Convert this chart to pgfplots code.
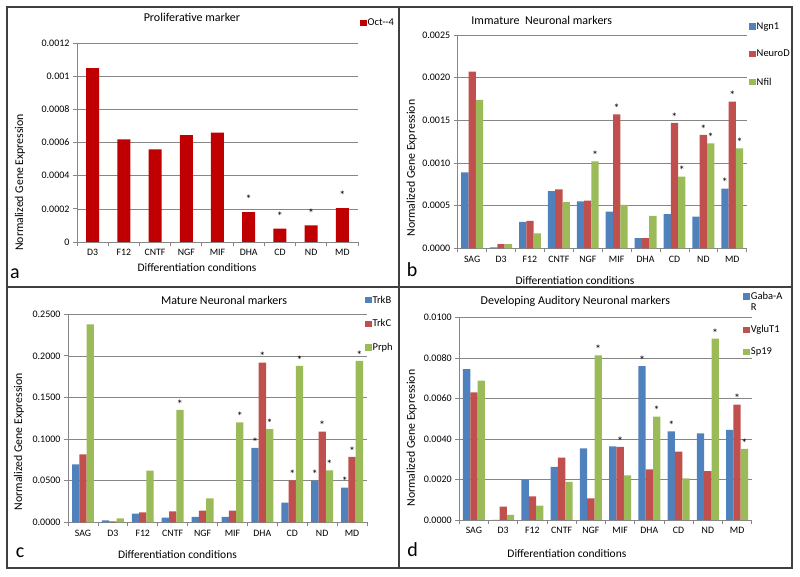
\documentclass[border=0pt]{standalone}
\usepackage{graphicx}
\usepackage{pgfplots}
\pgfplotsset{compat=1.18}
\usepackage{pgfplotstable}
\usepackage{fontspec}
\setmainfont{Carlito}
\definecolor{xblue}{HTML}{4F81BD}
\definecolor{xred}{HTML}{C0504D}
\definecolor{xgreen}{HTML}{9BBB59}
\definecolor{xdark}{HTML}{C00000}
\definecolor{xgrid}{HTML}{868686}
\definecolor{framec}{HTML}{404040}

\pgfplotstableread{
x v s
0 0.00105 {}
1 0.00062 {}
2 0.00056 {}
3 0.000645 {}
4 0.00066 {}
5 0.00018 *
6 0.00008 *
7 0.0001 *
8 0.000205 *
}\dataa

\pgfplotstableread{
x b1 s1 b2 s2 b3 s3
0 0.00089 {} 0.00207 {} 0.00174 {}
1 0.00001 {} 0.00005 {} 0.00005 {}
2 0.00031 {} 0.00032 {} 0.000176 {}
3 0.00067 {} 0.00069 {} 0.00054 {}
4 0.00055 {} 0.00056 {} 0.00102 *
5 0.00043 {} 0.00157 * 0.00051 {}
6 0.00012 {} 0.00012 {} 0.00038 {}
7 0.00040 {} 0.00147 * 0.00084 *
8 0.00037 {} 0.00133 * 0.00123 *
9 0.00070 * 0.00172 * 0.00117 *
}\datab

\pgfplotstableread{
x b1 s1 b2 s2 b3 s3
0 0.0697 {} 0.0817 {} 0.2380 {}
1 0.0024 {} 0.0012 {} 0.0048 {}
2 0.0104 {} 0.0120 {} 0.0620 {}
3 0.0056 {} 0.0132 {} 0.1350 *
4 0.0064 {} 0.0140 {} 0.0288 {}
5 0.0064 {} 0.0140 {} 0.1200 *
6 0.0893 * 0.1920 * 0.1120 *
7 0.0236 {} 0.0505 * 0.1880 *
8 0.0500 * 0.1090 * 0.0625 *
9 0.0417 * 0.0785 * 0.1940 *
}\datac

\pgfplotstableread{
x b1 s1 b2 s2 b3 s3
0 0.00746 {} 0.00631 {} 0.00689 {}
1 0.00000 {} 0.00066 {} 0.00025 {}
2 0.00199 {} 0.00117 {} 0.00071 {}
3 0.00262 {} 0.00308 {} 0.00188 {}
4 0.00354 {} 0.00107 {} 0.00814 *
5 0.00364 {} 0.00361 * 0.00220 {}
6 0.00761 * 0.00250 {} 0.00511 *
7 0.00438 * 0.00338 {} 0.00206 {}
8 0.00428 {} 0.00242 {} 0.00896 *
9 0.00446 {} 0.00570 * 0.00351 *
}\datad

\newcommand\fs[1]{\fontsize{#1}{#1}\selectfont}
\newcommand\ylabtext{\rotatebox{90}{Normalized Gene Expression}}

\tikzset{
  ttl/.style={font=\fs{12}, anchor=center, inner sep=0pt},
  ylab/.style={font=\fs{11.8}, anchor=center, inner sep=0pt},
}

\pgfplotsset{
  panel/.style={
    scale only axis, anchor=south west,
    ybar=0pt, bar width=7.3pt,
    axis x line*=bottom, axis y line*=left,
    axis line style={-, xgrid, line width=0.8pt},
    ymajorgrids, grid style={xgrid, line width=0.6pt},
    tick style={xgrid, line width=0.8pt},
    tick align=outside, major tick length=4pt,
    ymin=0, scaled y ticks=false,
    extra x tick style={major tick length=0pt, grid=none},
    ticklabel style={font=\fs{10}, text=black},
    xticklabel style={yshift=-4pt, font=\fs{9.8}},
    /pgf/number format/assume math mode=true,
    point meta=explicit symbolic,
    nodes near coords={\pgfplotspointmeta},
    nodes near coords style={font=\fs{12}, anchor=south, inner sep=0pt, yshift=1.5pt},
    label style={font=\fs{11.5}, anchor=center},
    legend style={draw=none, fill=none, font=\fs{10.5}, anchor=north west,
      inner sep=0pt, nodes={inner sep=1pt}, cells={anchor=west, align=left}},
    legend image code/.code={\fill[##1] (0pt,-3.25pt) rectangle (6.5pt,3.25pt);},
    clip=false,
  },
  sq/.style={draw=none, fill=#1,
    legend image code/.code={\fill[##1] (0pt,-3.25pt) rectangle (6.5pt,3.25pt);}},
}

\begin{document}
\begin{tikzpicture}
\useasboundingbox (0pt,0pt) rectangle (800pt,577pt);

% ---------- panel a ----------
\begin{axis}[panel,
  at={(77pt,335pt)}, width=281pt, height=198.7pt,
  bar width=13pt,
  xmin=-0.5, xmax=8.5, ymax=0.0012,
  xtick={-0.5,0.5,...,8.5},
  xticklabels={,,,,,,,,,},
  extra x ticks={0,1,2,3,4,5,6,7,8},
  extra x tick labels={D3,F12,CNTF,NGF,MIF,DHA,CD,ND,MD},
  ytick={0,0.0002,0.0004,0.0006,0.0008,0.001,0.0012},
  yticklabels={0,0.0002,0.0004,0.0006,0.0008,0.001,0.0012},
  nodes near coords style={yshift=6.5pt},
  xlabel={Differentiation conditions},
  xlabel style={at={(axis description cs:0.427,-0.131)}},
  legend style={at={(axis description cs:1.007,1.13)}},
]
\addplot[sq=xdark] table[x=x,y=v,meta=s] {\dataa};
\addlegendentry{Oct-{}-4}
\node[ttl] at (axis description cs:0.409,1.132) {Proliferative marker};
\node[ylab] at (axis description cs:-0.203,0.3) {\ylabtext};
\node[font=\fs{20}] at (axis description cs:-0.221,-0.161) {a};
\end{axis}

% ---------- panel b ----------
\begin{axis}[panel,
  at={(457.7pt,328.7pt)}, width=289pt, height=213.3pt,
  xmin=-0.5, xmax=9.5, ymax=0.0025,
  xtick={-0.5,0.5,...,9.5},
  xticklabels={,,,,,,,,,,},
  extra x ticks={0,1,2,3,4,5,6,7,8,9},
  extra x tick labels={SAG,D3,F12,CNTF,NGF,MIF,DHA,CD,ND,MD},
  ytick={0,0.0005,0.001,0.0015,0.002,0.0025},
  yticklabels={0.0000,0.0005,0.0010,0.0015,0.0020,0.0025},
  xlabel={Differentiation conditions},
  xlabel style={at={(axis description cs:0.406,-0.153)}},
  legend style={at={(axis description cs:1.008,1.065)}, row sep=17.5pt},
]
\addplot[sq=xblue] table[x=x,y=b1,meta=s1] {\datab};
\addlegendentry{Ngn1}
\addplot[sq=xred] table[x=x,y=b2,meta=s2] {\datab};
\addlegendentry{NeuroD}
\addplot[sq=xgreen] table[x=x,y=b3,meta=s3] {\datab};
\addlegendentry{Nfil}
\node[ttl] at (axis description cs:0.291,1.070) {Immature~ Neuronal markers};
\node[ylab] at (axis description cs:-0.159,0.376) {\ylabtext};
\node[font=\fs{20}] at (axis description cs:-0.158,-0.102) {b};
\end{axis}

% ---------- panel c ----------
\begin{axis}[panel,
  at={(68pt,54.7pt)}, width=299pt, height=208pt,
  xmin=-0.5, xmax=9.5, ymax=0.25,
  xtick={-0.5,0.5,...,9.5},
  xticklabels={,,,,,,,,,,},
  extra x ticks={0,1,2,3,4,5,6,7,8,9},
  extra x tick labels={SAG,D3,F12,CNTF,NGF,MIF,DHA,CD,ND,MD},
  ytick={0,0.05,0.1,0.15,0.2,0.25},
  yticklabels={0.0000,0.0500,0.1000,0.1500,0.2000,0.2500},
  xlabel={Differentiation conditions},
  xlabel style={at={(axis description cs:0.366,-0.157)}},
  legend style={at={(axis description cs:0.993,1.095)}, row sep=13pt},
]
\addplot[sq=xblue] table[x=x,y=b1,meta=s1] {\datac};
\addlegendentry{TrkB}
\addplot[sq=xred] table[x=x,y=b2,meta=s2] {\datac};
\addlegendentry{TrkC}
\addplot[sq=xgreen] table[x=x,y=b3,meta=s3] {\datac};
\addlegendentry{Prph}
\node[ttl] at (axis description cs:0.522,1.069) {Mature Neuronal markers};
\node[ylab] at (axis description cs:-0.164,0.3875) {\ylabtext};
\node[font=\fs{20}] at (axis description cs:-0.16,-0.148) {c};
\end{axis}

% ---------- panel d ----------
\begin{axis}[panel,
  at={(459.3pt,57pt)}, width=292.4pt, height=202.3pt,
  xmin=-0.5, xmax=9.5, ymax=0.01,
  xtick={-0.5,0.5,...,9.5},
  xticklabels={,,,,,,,,,,},
  extra x ticks={0,1,2,3,4,5,6,7,8,9},
  extra x tick labels={SAG,D3,F12,CNTF,NGF,MIF,DHA,CD,ND,MD},
  ytick={0,0.002,0.004,0.006,0.008,0.01},
  yticklabels={0.0000,0.0020,0.0040,0.0060,0.0080,0.0100},
  xlabel={Differentiation conditions},
  xlabel style={at={(axis description cs:0.368,-0.168)}},
  legend style={at={(axis description cs:0.971,1.13)}, row sep=11.5pt},
]
\addplot[sq=xblue, legend image code/.code={\fill[##1] (0pt,2.25pt) rectangle (6.5pt,8.75pt); \path (0pt,-8.75pt);}]
  table[x=x,y=b1,meta=s1] {\datad};
\addlegendentry{Gaba-A\\R}
\addplot[sq=xred] table[x=x,y=b2,meta=s2] {\datad};
\addlegendentry{VgluT1}
\addplot[sq=xgreen] table[x=x,y=b3,meta=s3] {\datad};
\addlegendentry{Sp19}
\node[ttl] at (axis description cs:0.397,1.083) {Developing Auditory Neuronal markers};
\node[ylab] at (axis description cs:-0.163,0.405) {\ylabtext};
\node[font=\fs{20}] at (axis description cs:-0.16,-0.148) {d};
\end{axis}

% ---------- frames ----------
\draw[framec, line width=1.2pt] (7pt,570pt) rectangle (792pt,9pt);
\draw[framec, line width=1.2pt] (399pt,570pt) -- (399pt,9pt);
\draw[framec, line width=1.2pt] (7pt,290pt) -- (792pt,290pt);
\end{tikzpicture}
\end{document}
